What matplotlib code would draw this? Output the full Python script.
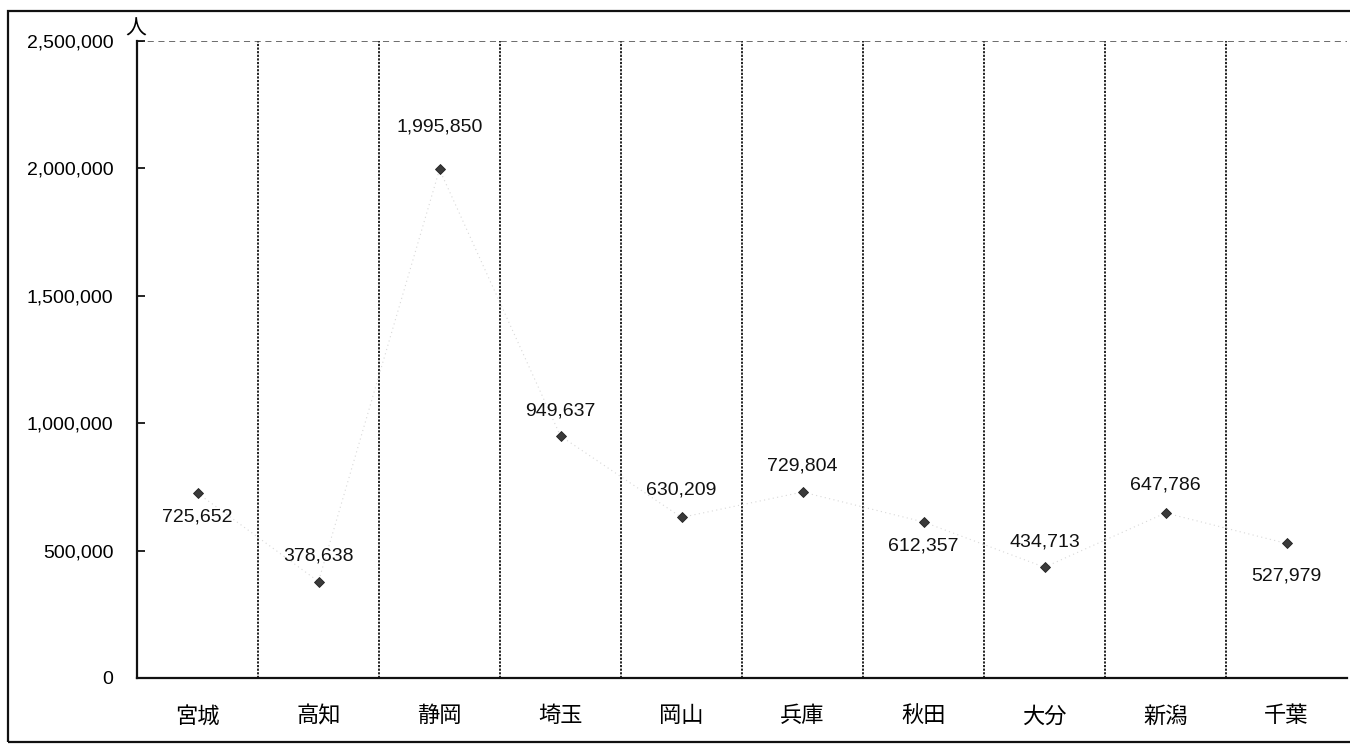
import matplotlib
matplotlib.use("Agg")
import matplotlib.pyplot as plt
from matplotlib.patches import Rectangle
from matplotlib.ticker import FuncFormatter

categories = ["宮城", "高知", "静岡", "埼玉", "岡山", "兵庫", "秋田", "大分", "新潟", "千葉"]
values = [725652, 378638, 1995850, 949637, 630209, 729804, 612357, 434713, 647786, 527979]
y_ticks = [0, 500000, 1000000, 1500000, 2000000, 2500000]
unit_label = "人"

# label placement (pixels offset from marker): positive = above
label_offsets = [-24, 26, 42, 25, 27, 26, -24, 25, 28, -33]

plt.rcParams['font.family'] = ['Liberation Sans', 'Noto Sans CJK JP', 'DejaVu Sans']

fig = plt.figure(figsize=(13.5, 7.44), dpi=100)
ax = fig.add_axes([137/1350, 1-678/744, (1347-137)/1350, (678-41)/744])

x = list(range(len(categories)))
ax.plot(x, values, color="#d8d8d8", lw=0.8, ls=(0, (1, 3)), zorder=2)
ax.plot(x, values, ls="none", marker="D", markersize=5.5, color="#3a3a3a",
        markeredgecolor="#222222", markeredgewidth=0.6, zorder=3)

for xi, v, off in zip(x, values, label_offsets):
    ax.annotate(f"{v:,}", (xi, v), xytext=(0, off), textcoords="offset pixels",
                ha="center", va="center", fontsize=14, color="#111111")

ax.set_xlim(-0.5, len(categories) - 0.5)
ax.set_ylim(0, 2500000)
ax.set_yticks(y_ticks)
ax.yaxis.set_major_formatter(FuncFormatter(lambda v, p: f"{int(v):,}"))
ax.set_xticks(x)
ax.set_xticklabels(categories, fontsize=16, family=['Noto Sans CJK JP', 'DejaVu Sans'])
ax.tick_params(axis="y", direction="in", length=6, width=1.2, pad=17, labelsize=14)
ax.tick_params(axis="x", length=0, pad=19)

# category separators
for b in range(1, len(categories)):
    ax.axvline(b - 0.5, color="#111111", lw=1.3, ls=(0, (1.2, 0.8)), zorder=1)
ax.axhline(2500000, color="#444444", lw=1.1, ls=(0, (4, 3)), zorder=1)

for s in ["top", "right"]:
    ax.spines[s].set_visible(False)
for s in ["left", "bottom"]:
    ax.spines[s].set_linewidth(1.6)
    ax.spines[s].set_color("#111111")

fig.text(136/1350, 1-29/744, unit_label, ha="center", va="center", fontsize=15,
         family=['Noto Sans CJK JP', 'DejaVu Sans'])

fig.patches.append(Rectangle((8/1350, 2/744), 1.1, (742-11)/744 - 2/744 + 0.003,
                             transform=fig.transFigure, fill=False, lw=1.6,
                             edgecolor="#111111"))

fig.savefig("out.png", dpi=100)
